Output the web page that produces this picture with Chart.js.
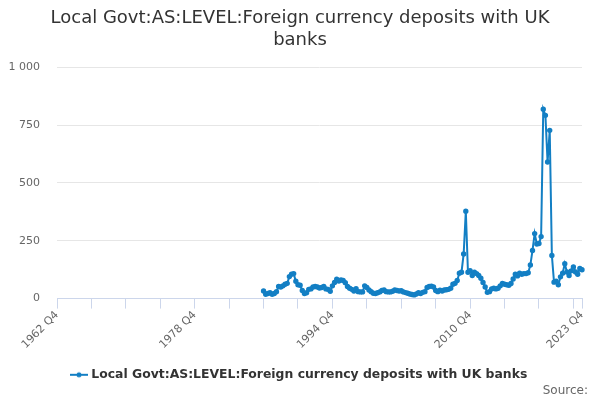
<!DOCTYPE html>
<html>
<head>
<meta charset="utf-8">
<script src="https://cdn.jsdelivr.net/npm/chart.js@4.4.1/dist/chart.umd.min.js"></script>
<style>
  body { margin: 0; background: #fff; }
  #wrap { position: relative; width: 600px; height: 400px; }
  #source {
    position: absolute; right: 12px; bottom: 3px;
    font: 12px "DejaVu Sans", sans-serif; color: #666;
  }
</style>
</head>
<body>
<div id="wrap">
  <canvas id="chart" width="600" height="400"></canvas>
  <div id="source">Source:</div>
</div>
<script>
// Quarterly series, 1962 Q4 .. 2023 Q4; values start 1986 Q4
const firstYear = 1962;
const firstQuarter = 4;
const lastYear = 2023;
const lastQuarter = 4;
const dataStart = '1986 Q4';

const seriesName = 'Local Govt:AS:LEVEL:Foreign currency deposits with UK banks';

const seriesValues = [
    33, 19, 22, 25, 19, 22, 30, 52, 50, 55, 62, 66, 95, 105, 108, 75,
    60, 58, 35, 22, 25, 40, 42, 50, 52, 50, 46, 48, 52, 42, 40, 32,
    55, 70, 84, 76, 81, 78, 69, 52, 45, 40, 33, 43, 30, 29, 29, 55,
    48, 37, 30, 23, 22, 25, 29, 35, 37, 30, 29, 29, 32, 37, 35, 33,
    34, 29, 26, 23, 20, 18, 16, 20, 25, 22, 27, 30, 48, 52, 54, 50,
    35, 30, 36, 33, 37, 38, 40, 45, 62, 66, 78, 110, 114, 193, 378, 114,
    121, 100, 114, 108, 100, 88, 70, 50, 27, 30, 42, 45, 42, 45, 55, 65,
    62, 60, 58, 65, 85, 105, 98, 110, 105, 108, 108, 112, 145, 208, 281, 236,
    238, 268, 818, 792, 590, 727, 186, 71, 75, 60, 94, 110, 151, 115, 100, 120,
    137, 115, 105, 130, 125
];

const yTicks = [0, 250, 500, 750, 1000];

// build quarter labels
const quarterLabels = [];
for (let y = firstYear, q = firstQuarter; y < lastYear || (y === lastYear && q <= lastQuarter); ) {
    quarterLabels.push(y + ' Q' + q);
    q++;
    if (q > 4) { q = 1; y++; }
}

const startIdx = quarterLabels.indexOf(dataStart);
const chartData = quarterLabels.map((l, i) => {
    const k = i - startIdx;
    return (k >= 0 && k < seriesValues.length) ? seriesValues[k] : null;
});
const lastIdx = quarterLabels.length - 1;

const lineColor = '#137fc4';

// legend symbol: short line with a dot
const legendIcon = document.createElement('canvas');
legendIcon.width = 18;
legendIcon.height = 8;
(function () {
    const c = legendIcon.getContext('2d');
    c.strokeStyle = lineColor;
    c.lineWidth = 2;
    c.beginPath();
    c.moveTo(0, 4);
    c.lineTo(18, 4);
    c.stroke();
    c.fillStyle = lineColor;
    c.beginPath();
    c.arc(9, 4, 2.5, 0, Math.PI * 2);
    c.fill();
})();

function formatThousands(v) {
    return String(v).replace(/\B(?=(\d{3})+(?!\d))/g, ' ');
}

new Chart(document.getElementById('chart').getContext('2d'), {
    type: 'line',
    data: {
        labels: quarterLabels,
        datasets: [{
            label: seriesName,
            data: chartData,
            borderColor: lineColor,
            backgroundColor: lineColor,
            borderWidth: 2,
            pointRadius: 1.7,
            pointHoverRadius: 3,
            pointStyle: 'circle',
            tension: 0,
            spanGaps: false
        }]
    },
    options: {
        responsive: false,
        animation: false,
        layout: { padding: { left: 8, right: 8, top: 6, bottom: 9 } },
        plugins: {
            title: {
                display: true,
                text: ['Local Govt:AS:LEVEL:Foreign currency deposits with UK', 'banks'],
                color: '#333333',
                font: { family: 'DejaVu Sans', size: 18, weight: 'normal', lineHeight: 1.2 },
                padding: { top: 2, bottom: 16 }
            },
            legend: {
                position: 'bottom',
                labels: {
                    usePointStyle: true,
                    pointStyle: legendIcon,
                    color: '#333333',
                    font: { family: 'DejaVu Sans', size: 12.4, weight: 'bold' },
                    padding: 6
                }
            },
            tooltip: { enabled: false }
        },
        scales: {
            x: {
                type: 'category',
                offset: false,
                grid: {
                    display: true,
                    drawOnChartArea: false,
                    drawTicks: true,
                    tickLength: 10,
                    color: '#ccd6eb'
                },
                border: { display: true, color: '#ccd6eb' },
                afterBuildTicks: (scale) => {
                    scale.ticks = scale.ticks.filter(t => t.value % 16 === 0 || t.value === lastIdx);
                },
                afterFit: (scale) => {
                    scale.paddingLeft = 0;
                    scale.paddingRight = 18;
                    scale.height = 64;
                },
                ticks: {
                    autoSkip: false,
                    maxRotation: 45,
                    minRotation: 45,
                    color: '#666666',
                    font: { family: 'DejaVu Sans', size: 11 },
                    padding: 0,
                    callback: (v) => (v % 64 === 0 || v === lastIdx) ? quarterLabels[v] : ''
                }
            },
            y: {
                min: 0,
                max: 1000,
                afterBuildTicks: (scale) => {
                    scale.ticks = yTicks.map(v => ({ value: v }));
                },
                afterFit: (scale) => {
                    scale.width = 49;
                },
                grid: { color: '#e6e6e6', drawTicks: false },
                border: { display: false },
                ticks: {
                    color: '#666666',
                    font: { family: 'DejaVu Sans', size: 11 },
                    padding: 17,
                    callback: (v) => formatThousands(v)
                }
            }
        }
    }
});
</script>
</body>
</html>
